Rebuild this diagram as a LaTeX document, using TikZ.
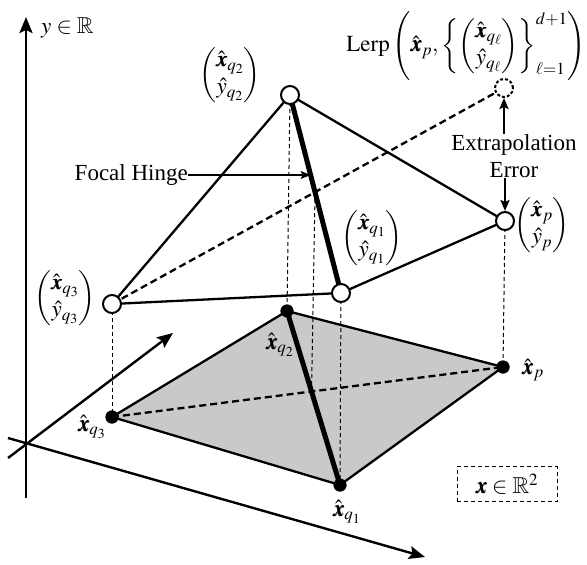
\documentclass[tikz,border=0pt]{standalone}
\usepackage{amsmath}
\usepackage{mathptmx}
\usepackage{amssymb}
\usepackage{bm}
\usepackage{fontspec}
\setmainfont{Liberation Serif}
\usetikzlibrary{arrows.meta,calc}
\definecolor{basegray}{RGB}{200,201,203}
\begin{document}
\begin{tikzpicture}[x=1pt,y=-1pt,
  lbl/.style={font=\fontsize{23}{27}\selectfont, inner sep=0pt},
  axis/.style={line width=2.4pt,-{Stealth[length=16pt,width=13pt,inset=3pt]}},
  edge/.style={line width=2.3pt},
  hingeline/.style={line width=5pt},
  thickdash/.style={line width=2.3pt,dash pattern=on 7pt off 4pt},
  thindash/.style={line width=1pt,dash pattern=on 4pt off 3pt},
  topvert/.style={circle,draw,line width=2pt,fill=white,minimum size=18pt,inner sep=0pt},
  extvert/.style={circle,draw,line width=2pt,dash pattern=on 3pt off 2pt,fill=white,minimum size=18pt,inner sep=0pt},
  basevert/.style={circle,fill=black,minimum size=13pt,inner sep=0pt},
  callout/.style={line width=2.3pt,-{Stealth[length=11pt,width=9pt,inset=2pt]}},
  thincallout/.style={line width=1.2pt,-{Stealth[length=10pt,width=8pt,inset=2pt]}}]
\useasboundingbox (0,0) rectangle (587,565);

% axes
\coordinate (ybot) at (26,498);
\coordinate (ytop) at (26,17);
\coordinate (xs) at (8,438);
\coordinate (xe) at (425,557);
\coordinate (ds) at (8,458);
\coordinate (de) at (173,333);
\draw[axis] (ybot) -- (ytop);
\draw[axis] (xs) -- (xe);
\draw[axis] (ds) -- (de);
\node[lbl,anchor=west] (ylab) at (41,28) {$y\in\mathbb{R}$};

% base points
\node[basevert] (q3b) at (112,417) {};
\node[basevert] (q2b) at (287,311) {};
\node[basevert] (pb) at (503,367) {};
\node[basevert] (q1b) at (340,485) {};

% top points (coordinates first)
\coordinate (q3tc) at (112,304);
\coordinate (q2tc) at (290,95);
\coordinate (q1tc) at (341,293);
\coordinate (ptc) at (505,221);
\coordinate (exc) at (504,88);

% gray base
\fill[basegray] (q3b.center) -- (q2b.center) -- (pb.center) -- (q1b.center) -- cycle;
\draw[edge,line join=round] (q3b.center) -- (q2b.center) -- (pb.center) -- (q1b.center) -- cycle;
\draw[thickdash] (q3b.center) -- (pb.center);
\draw[hingeline] (q2b.center) -- (q1b.center);

% projection of hinge crossing
\coordinate (ht) at (intersection of q2tc--q1tc and q3tc--exc);
\coordinate (hb) at (intersection of q2b--q1b and q3b--pb);
\draw[thindash] (ht) -- (hb);

% vertical dashed projections
\draw[thindash] (q3tc) -- (q3b.center);
\draw[thindash] (q2tc) -- (q2b.center);
\draw[thindash] (q1tc) -- (q1b.center);
\draw[thindash] (ptc) -- (pb.center);

% base dots on top
\node[basevert] at (q3b) {};
\node[basevert] at (q2b) {};
\node[basevert] at (pb) {};
\node[basevert] at (q1b) {};

% top surface
\draw[edge] (q3tc) -- (q2tc);
\draw[edge] (q2tc) -- (ptc);
\draw[edge] (q3tc) -- (q1tc);
\draw[edge] (q1tc) -- (ptc);
\draw[thickdash] (q3tc) -- (exc);
\draw[hingeline] (q2tc) -- (q1tc);

\node[topvert] (q3t) at (q3tc) {};
\node[topvert] (q2t) at (q2tc) {};
\node[topvert] (q1t) at (q1tc) {};
\node[topvert] (pt) at (ptc) {};
\node[extvert] (ex) at (exc) {};

% labels of top points
\node[lbl] (lq2) at (230,75) {$\begin{pmatrix}\hat{\bm x}_{q_2}\\ \hat y_{q_2}\end{pmatrix}$};
\node[lbl] (lq1) at (372,238) {$\begin{pmatrix}\hat{\bm x}_{q_1}\\ \hat y_{q_1}\end{pmatrix}$};
\node[lbl] (lp) at (542,225) {$\begin{pmatrix}\hat{\bm x}_{p}\\ \hat y_{p}\end{pmatrix}$};
\node[lbl] (lq3) at (65,298) {$\begin{pmatrix}\hat{\bm x}_{q_3}\\ \hat y_{q_3}\end{pmatrix}$};

% base labels
\node[lbl] (bq3) at (92,427) {$\hat{\bm x}_{q_3}$};
\node[lbl] (bq2) at (280,345) {$\hat{\bm x}_{q_2}$};
\node[lbl] (bp) at (533,370) {$\hat{\bm x}_{p}$};
\node[lbl] (bq1) at (347,512) {$\hat{\bm x}_{q_1}$};

% domain box
\node[lbl,draw,line width=1pt,dash pattern=on 4pt off 3pt,minimum width=100pt,minimum height=35pt] (dom) at (507,484) {$\bm x\in\mathbb{R}^2$};

% Lerp label
\node[lbl,anchor=east] (lerp) at (586,46) {$\mathrm{Lerp}\left(\hat{\bm x}_p,\left\{\begin{pmatrix}\hat{\bm x}_{q_\ell}\\ \hat y_{q_\ell}\end{pmatrix}\right\}_{\ell=1}^{d+1}\right)$};

% extrapolation error
\node[lbl,align=center] (err) at (514,156) {Extrapolation\\Error};
\draw[callout] (err.north -| ex) -- (ex.south);
\draw[callout] (err.south -| pt) -- (pt.north);

% focal hinge
\coordinate (fh) at ($(q2tc)!0.404!(q1tc)$);
\node[lbl,anchor=east] (fhl) at (188,175) {Focal Hinge};
\draw[thincallout] (fhl.east) -- (fhl.east -| fh);
\end{tikzpicture}
\end{document}
